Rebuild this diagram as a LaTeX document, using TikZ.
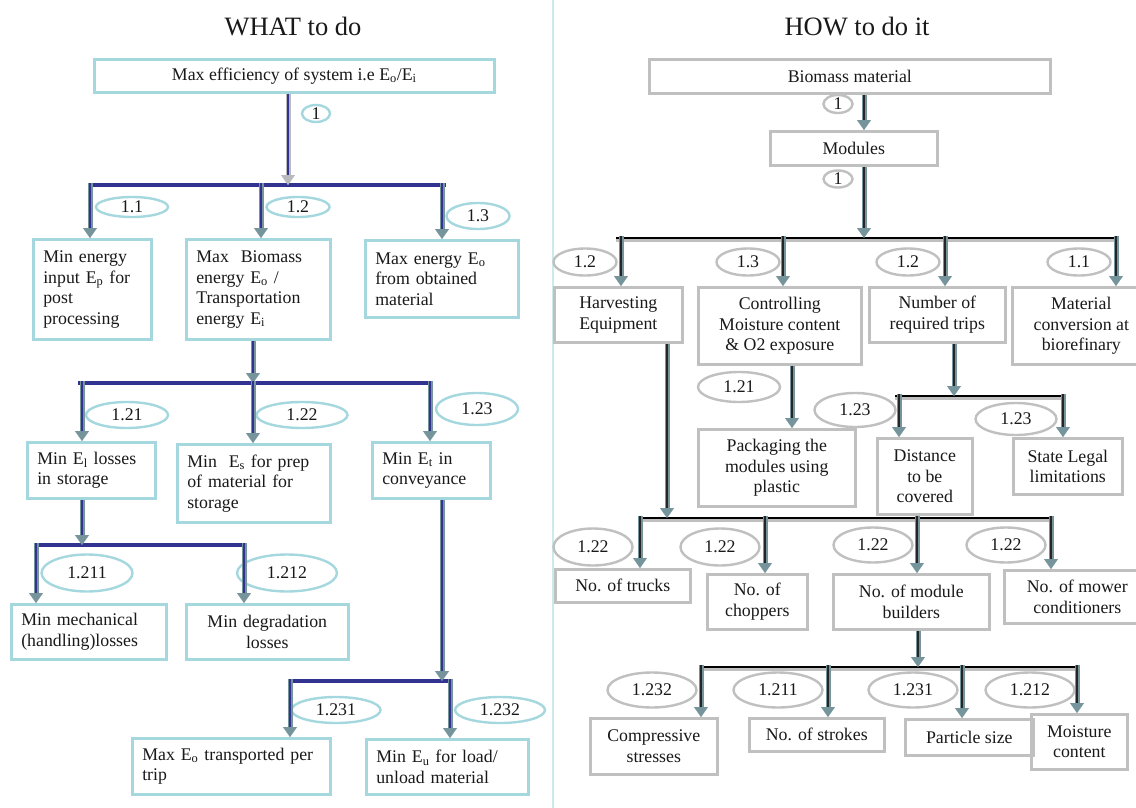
\documentclass[tikz,border=0pt]{standalone}
\usepackage{fontspec}
\setmainfont{Liberation Serif}
\usetikzlibrary{arrows.meta,shapes.geometric}
\definecolor{lcyan}{RGB}{165,216,222}
\definecolor{divc}{RGB}{205,233,236}
\definecolor{navy}{RGB}{50,50,145}
\definecolor{agray}{RGB}{118,148,155}
\definecolor{tgray}{RGB}{185,186,190}
\definecolor{bgray}{RGB}{192,192,192}
\definecolor{txt}{RGB}{25,25,25}
\begin{document}
\begin{tikzpicture}[x=1pt,y=-1pt,
  every node/.style={text=txt, font=\fontsize{17.8}{20.5}\selectfont},
  titletext/.style={font=\fontsize{26.5}{30}\selectfont, anchor=base},
  lbox/.style={draw=lcyan, line width=2.6pt, rectangle, inner xsep=10pt, inner ysep=4pt, anchor=north west, align=left},
  lboxc/.style={lbox, align=center},
  rbox/.style={draw=bgray, line width=2.6pt, rectangle, inner sep=4pt, anchor=north west, align=center},
  lell/.style={draw=lcyan, line width=2.4pt, ellipse, inner sep=0pt},
  rell/.style={draw=bgray, line width=2.4pt, ellipse, inner sep=0pt},
  larr/.style={draw=agray, line width=5pt, -{Triangle[length=10pt,width=14pt,line width=0.1pt]}, postaction={draw=navy, line width=1.8pt, -, shorten >=10pt}},
  tarr/.style={draw=tgray, line width=5pt, -{Triangle[length=10pt,width=14pt,line width=0.1pt]}, postaction={draw=navy, line width=1.8pt, -, shorten >=10pt}},
  rarr/.style={draw=agray, line width=5pt, -{Triangle[length=10pt,width=14pt,line width=0.1pt]}, postaction={draw=black!85, line width=1.5pt, -, shorten >=10pt}},
  lbar/.style={draw=navy, line width=3.5pt},
  rbar/.style={draw=black, line width=2.6pt, preaction={draw=black!25, line width=5pt, transform canvas={yshift=-1.5pt}}},
  divline/.style={draw=divc, line width=1.5pt}
]
\useasboundingbox (0,0) rectangle (1136,808);
\fill[white] (0,0) rectangle (1136,808);

% divider and titles
\coordinate (dvt) at (553,0); \coordinate (dvb) at (553,808);
\draw[divline] (dvt) -- (dvb);
\node[titletext] (tl) at (293,36) {WHAT to do};
\node[titletext] (tr) at (857,36) {HOW to do it};

% ---------------- LEFT: boxes ----------------
\node[lboxc, minimum width=400, minimum height=33] (top) at (93,58) {Max efficiency of system i.e E\textsubscript{o}/E\textsubscript{i}};
\node[lbox, minimum width=118, minimum height=100, text width=98pt] (b11) at (32,238) {Min energy\\input E\textsubscript{p} for\\post\\processing};
\node[lbox, minimum width=144, minimum height=100, text width=124pt] (b12) at (185,238) {Max~ Biomass\\energy E\textsubscript{o} /\\Transportation\\energy E\textsubscript{i}};
\node[lbox, minimum width=153, minimum height=77, text width=133pt] (b13) at (364,239) {Max energy E\textsubscript{o}\\from obtained\\material};
\node[lbox, minimum width=128, minimum height=56, text width=108pt] (b121) at (26,441) {Min E\textsubscript{l} losses\\in storage};
\node[lbox, minimum width=153, minimum height=78, text width=133pt] (b122) at (176,443) {Min~ E\textsubscript{s} for prep\\of material for\\storage};
\node[lbox, minimum width=118, minimum height=56, text width=98pt] (b123) at (371,441) {Min E\textsubscript{t} in\\conveyance};
\node[lbox, minimum width=155, minimum height=55, text width=135pt] (b1211) at (10,603) {Min mechanical\\(handling)losses};
\node[lbox, align=center, minimum width=162, minimum height=55, text width=142pt] (b1212) at (185,603) {Min degradation\\losses};
\node[lbox, minimum width=198, minimum height=56, text width=178pt] (b1231) at (131,737) {Max E\textsubscript{o} transported per\\trip};
\node[lbox, minimum width=162, minimum height=55, text width=142pt] (b1232) at (365,738) {Min E\textsubscript{u} for load/\\unload material};

% LEFT: ellipses
\node[lell, minimum width=28, minimum height=17] (e1) at (316,113.5) {1};
\node[lell, minimum width=72, minimum height=20] (e11) at (132,207) {1.1};
\node[lell, minimum width=63, minimum height=20] (e12) at (298,207) {1.2};
\node[lell, minimum width=63, minimum height=26] (e13) at (478,216) {1.3};
\node[lell, minimum width=82, minimum height=26] (e121) at (127,415) {1.21};
\node[lell, minimum width=91, minimum height=26] (e122) at (302,415) {1.22};
\node[lell, minimum width=82, minimum height=32] (e123) at (477,409) {1.23};
\node[lell, minimum width=91, minimum height=37] (e1211) at (87,573) {1.211};
\node[lell, minimum width=100, minimum height=37] (e1212) at (287,573) {1.212};
\node[lell, minimum width=89, minimum height=26] (e1231) at (336,710) {1.231};
\node[lell, minimum width=90, minimum height=26] (e1232) at (500,710) {1.232};

% LEFT: bars and arrows
\coordinate (L1a) at (88,185); \coordinate (L1b) at (446,185);
\draw[lbar] (L1a) -- (L1b);
\coordinate (jt) at (288,185);
\draw[tarr] (jt |- top.south) -- (jt);
\coordinate (j11) at (90,185); \coordinate (j12) at (261,185); \coordinate (j13) at (442,185);
\draw[larr] ([yshift=2pt]j11) -- (j11 |- b11.north);
\draw[larr] ([yshift=2pt]j12) -- (j12 |- b12.north);
\draw[larr] ([yshift=2pt]j13) -- (j13 |- b13.north);

\coordinate (L2a) at (78,383); \coordinate (L2b) at (433,383);
\draw[lbar] (L2a) -- (L2b);
\coordinate (j2) at (253,383);
\draw[larr] (j2 |- b12.south) -- (j2);
\coordinate (j121) at (82,383); \coordinate (j122) at (253,383); \coordinate (j123) at (430,383);
\draw[larr] ([yshift=2pt]j121) -- (j121 |- b121.north);
\draw[larr] ([yshift=2pt]j122) -- (j122 |- b122.north);
\draw[larr] ([yshift=2pt]j123) -- (j123 |- b123.north);

\coordinate (L3a) at (34,545); \coordinate (L3b) at (247,545);
\draw[lbar] (L3a) -- (L3b);
\coordinate (j3) at (82,545);
\draw[larr] (j3 |- b121.south) -- (j3);
\coordinate (j1211) at (36,545); \coordinate (j1212) at (244,545);
\draw[larr] ([yshift=2pt]j1211) -- (j1211 |- b1211.north);
\draw[larr] ([yshift=2pt]j1212) -- (j1212 |- b1212.north);

\coordinate (L4a) at (288,681); \coordinate (L4b) at (452,681);
\draw[lbar] (L4a) -- (L4b);
\coordinate (j4) at (442,681);
\draw[larr] (j4 |- b123.south) -- (j4);
\coordinate (j1231) at (290,681); \coordinate (j1232) at (450,681);
\draw[larr] ([yshift=2pt]j1231) -- (j1231 |- b1231.north);
\draw[larr] ([yshift=2pt]j1232) -- (j1232 |- b1232.north);

% ---------------- RIGHT: boxes ----------------
\node[rbox, minimum width=401, minimum height=34] (bio) at (648,58) {Biomass material};
\node[rbox, minimum width=167, minimum height=34] (mod) at (769,130) {Modules};
\node[rbox, minimum width=128, minimum height=55] (harv) at (553,286) {Harvesting\\Equipment};
\node[rbox, minimum width=163, minimum height=77] (ctrl) at (697,286) {Controlling\\Moisture content\\\& O2 exposure};
\node[rbox, minimum width=136, minimum height=55] (num) at (868,286) {Number of\\required trips};
\node[rbox, minimum width=138, minimum height=77] (mat) at (1011,286) {Material\\conversion at\\biorefinary};
\node[rbox, minimum width=157, minimum height=77] (pack) at (697,428) {Packaging the\\modules using\\plastic};
\node[rbox, minimum width=95, minimum height=76] (dist) at (876,437) {Distance\\to be\\covered};
\node[rbox, minimum width=109, minimum height=56] (state) at (1012,437) {State Legal\\limitations};
\node[rbox, minimum width=135, minimum height=33] (trucks) at (554,568) {No. of trucks};
\node[rbox, minimum width=100, minimum height=55] (chop) at (706,573) {No. of\\choppers};
\node[rbox, minimum width=156, minimum height=55] (modb) at (832,573) {No. of module\\builders};
\node[rbox, minimum width=146, minimum height=53] (mower) at (1003,569) {No. of mower\\conditioners};
\node[rbox, minimum width=127, minimum height=56] (comp) at (589,717) {Compressive\\stresses};
\node[rbox, minimum width=135, minimum height=33] (strokes) at (748,717) {No. of strokes};
\node[rbox, minimum width=128, minimum height=36] (part) at (904,718) {Particle size};
\node[rbox, minimum width=96, minimum height=55] (moist) at (1030,713) {Moisture\\content};

% RIGHT: ellipses
\node[rell, minimum width=29, minimum height=18] (r1a) at (838,104) {1};
\node[rell, minimum width=29, minimum height=17] (r1b) at (838,179) {1};
\node[rell, minimum width=63, minimum height=27] (r12a) at (585,262) {1.2};
\node[rell, minimum width=63, minimum height=27] (r13) at (748,262) {1.3};
\node[rell, minimum width=63, minimum height=27] (r12b) at (908,262) {1.2};
\node[rell, minimum width=63, minimum height=27] (r11) at (1079,262) {1.1};
\node[rell, minimum width=82, minimum height=30] (r121) at (739,387) {1.21};
\node[rell, minimum width=81, minimum height=34] (r123a) at (855,410) {1.23};
\node[rell, minimum width=81, minimum height=32] (r123b) at (1016,419) {1.23};
\node[rell, minimum width=79, minimum height=37] (r122a) at (593,547) {1.22};
\node[rell, minimum width=79, minimum height=37] (r122b) at (720,547) {1.22};
\node[rell, minimum width=79, minimum height=35] (r122c) at (873,545) {1.22};
\node[rell, minimum width=79, minimum height=35] (r122d) at (1006,545) {1.22};
\node[rell, minimum width=89, minimum height=35] (r1232) at (652,690) {1.232};
\node[rell, minimum width=89, minimum height=35] (r1211) at (778,690) {1.211};
\node[rell, minimum width=89, minimum height=35] (r1231) at (913,690) {1.231};
\node[rell, minimum width=89, minimum height=35] (r1212) at (1030,690) {1.212};

% RIGHT: bars and arrows
\coordinate (rb) at (864,0);
\draw[rarr] (rb |- bio.south) -- (rb |- mod.north);

\coordinate (R1a) at (616,238); \coordinate (R1b) at (1118,238);
\draw[rbar] (R1a) -- (R1b);
\coordinate (r1) at (864,238);
\draw[rarr] (r1 |- mod.south) -- (r1);
\coordinate (rh) at (621,238); \coordinate (rc) at (783,238); \coordinate (rn) at (945,238); \coordinate (rm) at (1116,238);
\draw[rarr] ([yshift=2pt]rh) -- (rh |- harv.north);
\draw[rarr] ([yshift=2pt]rc) -- (rc |- ctrl.north);
\draw[rarr] ([yshift=2pt]rn) -- (rn |- num.north);
\draw[rarr] ([yshift=2pt]rm) -- (rm |- mat.north);

\coordinate (rp) at (792,0);
\draw[rarr] (rp |- ctrl.south) -- (rp |- pack.north);

\coordinate (R2a) at (895,396); \coordinate (R2b) at (1066,396);
\draw[rbar] (R2a) -- (R2b);
\coordinate (r2) at (954,396);
\draw[rarr] (r2 |- num.south) -- (r2);
\coordinate (rd) at (899,396); \coordinate (rs) at (1063,396);
\draw[rarr] ([yshift=2pt]rd) -- (rd |- dist.north);
\draw[rarr] ([yshift=2pt]rs) -- (rs |- state.north);

\coordinate (R3a) at (638,518); \coordinate (R3b) at (1053,518);
\draw[rbar] (R3a) -- (R3b);
\coordinate (r3) at (667,518);
\draw[rarr] (r3 |- harv.south) -- (r3);
\coordinate (rt) at (640,518); \coordinate (rch) at (765,518); \coordinate (rmb) at (917,518); \coordinate (rmo) at (1051,518);
\draw[rarr] ([yshift=2pt]rt) -- (rt |- trucks.north);
\draw[rarr] ([yshift=2pt]rch) -- (rch |- chop.north);
\draw[rarr] ([yshift=2pt]rmb) -- (rmb |- modb.north);
\draw[rarr] ([yshift=2pt]rmo) -- (rmo |- mower.north);

\coordinate (R4a) at (699,667); \coordinate (R4b) at (1079,667);
\draw[rbar] (R4a) -- (R4b);
\coordinate (r4) at (918,667);
\draw[rarr] (r4 |- modb.south) -- (r4);
\coordinate (rco) at (701,667); \coordinate (rst) at (828,667); \coordinate (rpa) at (962,667); \coordinate (rmoi) at (1077,667);
\draw[rarr] ([yshift=2pt]rco) -- (rco |- comp.north);
\draw[rarr] ([yshift=2pt]rst) -- (rst |- strokes.north);
\draw[rarr] ([yshift=2pt]rpa) -- (rpa |- part.north);
\draw[rarr] ([yshift=2pt]rmoi) -- (rmoi |- moist.north);
\end{tikzpicture}
\end{document}
